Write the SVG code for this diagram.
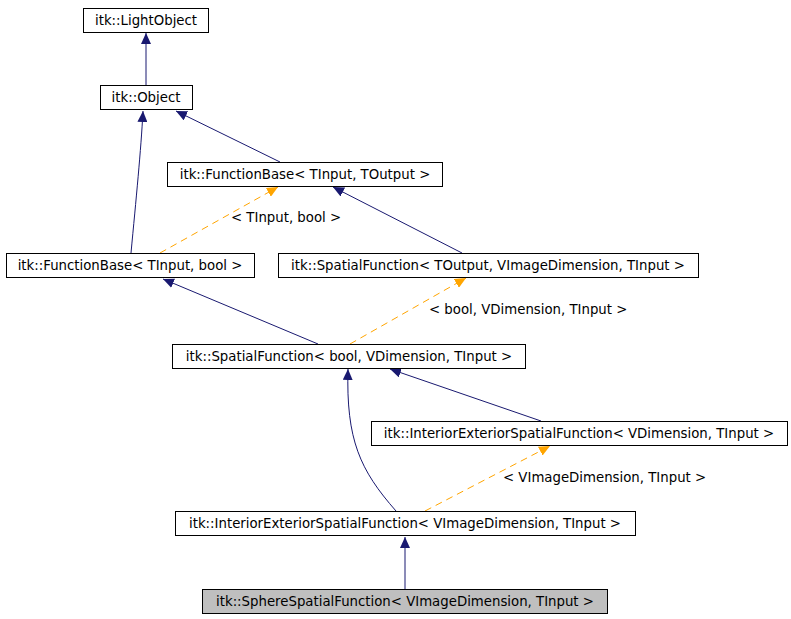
<svg xmlns="http://www.w3.org/2000/svg" width="791" height="619" viewBox="0 0 791 619">
<style>
.n rect{fill:#fff;stroke:#000;stroke-width:1}
text{font-family:"DejaVu Sans",sans-serif;font-size:13.3px;fill:#000}
.n text{text-anchor:middle}
.s{fill:none;stroke:#191970;stroke-width:1}
.d{fill:none;stroke:#ffa500;stroke-width:1;stroke-dasharray:7,5}
</style>
<defs>
<marker id="ab" markerWidth="12" markerHeight="10" refX="11" refY="5" orient="auto" markerUnits="userSpaceOnUse"><path d="M0,0 L11,5 L0,10 Z" fill="#191970"/></marker>
<marker id="ao" markerWidth="12" markerHeight="10" refX="11" refY="5" orient="auto" markerUnits="userSpaceOnUse"><path d="M0,0 L11,5 L0,10 Z" fill="#ffa500"/></marker>
</defs>
<rect width="791" height="619" fill="#fff"/>
<g id="edges">
<path class="s" marker-end="url(#ab)" d="M146,85 L146,33"/>
<path class="s" marker-end="url(#ab)" d="M280,162 L176,111"/>
<path class="s" marker-end="url(#ab)" d="M131,253 C136,200 141,150 143,111"/>
<path class="d" marker-end="url(#ao)" d="M160,253 L278,187"/>
<text x="231" y="222">&lt; TInput, bool &gt;</text>
<path class="s" marker-end="url(#ab)" d="M462,253 L333,187"/>
<path class="s" marker-end="url(#ab)" d="M318,344 L163,279"/>
<path class="d" marker-end="url(#ao)" d="M350,344 L466,278"/>
<text x="429" y="314">&lt; bool, VDimension, TInput &gt;</text>
<path class="s" marker-end="url(#ab)" d="M541,421 L390,369"/>
<path class="s" marker-end="url(#ab)" d="M396,511 C360,470 346,440 348,369"/>
<path class="d" marker-end="url(#ao)" d="M425,511 L550,446"/>
<text x="503" y="482">&lt; VImageDimension, TInput &gt;</text>
<path class="s" marker-end="url(#ab)" d="M405,589 L405,537"/>
</g>
<g id="n1" class="n"><rect x="83.5" y="8.5" width="125" height="24"/><text x="146" y="25">itk::LightObject</text></g>
<g id="n2" class="n"><rect x="100.5" y="85.5" width="92" height="24"/><text x="146" y="102">itk::Object</text></g>
<g id="n3" class="n"><rect x="167.5" y="162.5" width="275" height="24"/><text x="305" y="179">itk::FunctionBase&lt; TInput, TOutput &gt;</text></g>
<g id="n4" class="n"><rect x="6.5" y="253.5" width="248" height="24"/><text x="130" y="270">itk::FunctionBase&lt; TInput, bool &gt;</text></g>
<g id="n5" class="n"><rect x="278.5" y="253.5" width="420" height="24"/><text x="488" y="270">itk::SpatialFunction&lt; TOutput, VImageDimension, TInput &gt;</text></g>
<g id="n6" class="n"><rect x="172.5" y="344.5" width="353" height="24"/><text x="349" y="361">itk::SpatialFunction&lt; bool, VDimension, TInput &gt;</text></g>
<g id="n7" class="n"><rect x="371.5" y="421.5" width="416" height="24"/><text x="579" y="438">itk::InteriorExteriorSpatialFunction&lt; VDimension, TInput &gt;</text></g>
<g id="n8" class="n"><rect x="175.5" y="511.5" width="460" height="24"/><text x="405" y="528">itk::InteriorExteriorSpatialFunction&lt; VImageDimension, TInput &gt;</text></g>
<g id="n9" class="n"><rect x="202.5" y="589.5" width="405" height="24" style="fill:#bfbfbf"/><text x="405" y="606">itk::SphereSpatialFunction&lt; VImageDimension, TInput &gt;</text></g>
</svg>
